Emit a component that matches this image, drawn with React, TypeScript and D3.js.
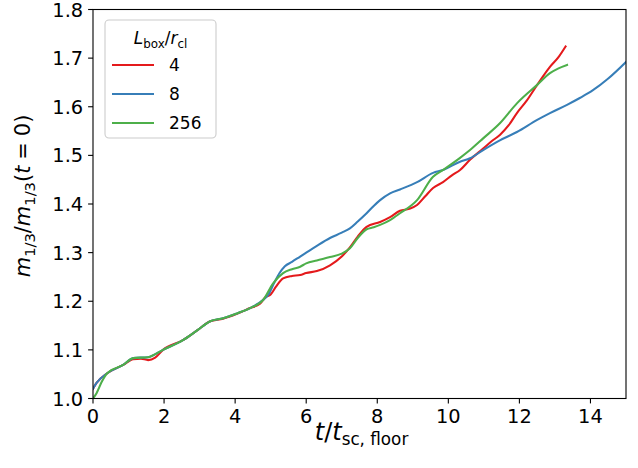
import React from "react";
import * as d3 from "d3";

const W = 638, H = 468;
const M = { left: 93, right: 626, top: 9.5, bottom: 398.5 };

const xTicks = [0, 2, 4, 6, 8, 10, 12, 14];
const yTicks = [1.0, 1.1, 1.2, 1.3, 1.4, 1.5, 1.6, 1.7, 1.8];

const legendLabels = ["4", "8", "256"];
const colors = ["#e41a1c", "#377eb8", "#4daf4a"];

const tRed = [0, 0.1, 0.4, 0.85, 1.13, 1.35, 1.55, 1.75, 1.97, 2.53, 2.93, 3.3, 3.66, 4.05, 4.42, 4.7, 4.85, 5.0, 5.15, 5.35, 5.6, 5.83, 6.0, 6.3, 6.67, 7.0, 7.23, 7.45, 7.7, 8.08, 8.36, 8.64, 8.9, 9.12, 9.35, 9.57, 9.85, 10.1, 10.33, 10.61, 10.98, 11.2, 11.45, 11.7, 11.93, 12.2, 12.5, 12.86, 13.1, 13.3];
const vRed = [1.02, 1.032, 1.052, 1.069, 1.081, 1.082, 1.079, 1.084, 1.10, 1.12, 1.14, 1.159, 1.164, 1.174, 1.186, 1.195, 1.208, 1.214, 1.230, 1.247, 1.252, 1.254, 1.258, 1.262, 1.274, 1.292, 1.311, 1.333, 1.353, 1.363, 1.373, 1.386, 1.390, 1.398, 1.416, 1.433, 1.445, 1.459, 1.470, 1.491, 1.514, 1.528, 1.542, 1.562, 1.587, 1.612, 1.645, 1.682, 1.702, 1.724];

const tBlue = [0, 0.1, 0.4, 0.85, 1.13, 1.55, 1.97, 2.53, 2.93, 3.3, 3.66, 4.05, 4.42, 4.79, 4.95, 5.1, 5.25, 5.4, 5.6, 5.83, 6.0, 6.3, 6.67, 7.0, 7.23, 7.45, 7.7, 7.9, 8.08, 8.36, 8.64, 9.12, 9.57, 9.85, 10.33, 10.61, 10.98, 11.45, 11.93, 12.5, 12.86, 13.34, 13.7, 14.07, 14.5, 15.0];
const vBlue = [1.02, 1.032, 1.052, 1.069, 1.083, 1.085, 1.10, 1.12, 1.14, 1.159, 1.165, 1.175, 1.186, 1.203, 1.215, 1.238, 1.258, 1.272, 1.281, 1.292, 1.30, 1.314, 1.33, 1.341, 1.35, 1.364, 1.381, 1.396, 1.408, 1.422, 1.43, 1.445, 1.464, 1.47, 1.487, 1.494, 1.511, 1.531, 1.548, 1.573, 1.587, 1.604, 1.618, 1.634, 1.658, 1.692];

const tGreen = [0, 0.1, 0.25, 0.4, 0.85, 1.13, 1.55, 1.97, 2.53, 2.93, 3.3, 3.66, 4.05, 4.42, 4.79, 5.07, 5.35, 5.6, 5.83, 6.0, 6.3, 6.67, 7.0, 7.23, 7.45, 7.7, 7.9, 8.08, 8.36, 8.64, 9.12, 9.57, 9.85, 10.33, 10.61, 10.98, 11.45, 11.93, 12.5, 12.86, 13.1, 13.34];
const vGreen = [1.0, 1.011, 1.035, 1.052, 1.069, 1.083, 1.085, 1.10, 1.12, 1.14, 1.159, 1.165, 1.175, 1.186, 1.203, 1.237, 1.258, 1.266, 1.271, 1.278, 1.284, 1.291, 1.298, 1.309, 1.330, 1.348, 1.352, 1.357, 1.367, 1.381, 1.408, 1.456, 1.47, 1.495, 1.511, 1.535, 1.566, 1.607, 1.645, 1.669, 1.679, 1.686];

const series = [
  { t: tRed, v: vRed },
  { t: tBlue, v: vBlue },
  { t: tGreen, v: vGreen },
];

const FONT = "DejaVu Sans";

export default function App() {
  const x = d3.scaleLinear().domain([0, 15]).range([M.left, M.right]);
  const y = d3.scaleLinear().domain([1.0, 1.8]).range([M.bottom, M.top]);
  const line = d3
    .line<[number, number]>()
    .x((d) => x(d[0]))
    .y((d) => y(d[1]))
    .curve(d3.curveMonotoneX);

  const tickLen = 4.9;
  const fs = 19.4;
  const xfs = 24;
  const yfs = 21;

  return (
    <svg width={W} height={H} style={{ position: "absolute", left: 0, top: 0, background: "#fff" }} fontFamily={FONT}>
      <defs>
        <clipPath id="plot">
          <rect x={M.left} y={M.top} width={M.right - M.left} height={M.bottom - M.top} />
        </clipPath>
      </defs>
      <rect x={0} y={0} width={W} height={H} fill="#fff" />
      <g clipPath="url(#plot)">
        {series.map((s, i) => (
          <path
            key={i}
            d={line(s.t.map((tt, j) => [tt, s.v[j]] as [number, number])) || ""}
            fill="none"
            stroke={colors[i]}
            strokeWidth={2.08}
            strokeLinejoin="round"
            strokeLinecap="square"
          />
        ))}
      </g>
      <rect x={M.left} y={M.top} width={M.right - M.left} height={M.bottom - M.top} fill="none" stroke="#000" strokeWidth={1.1} />
      {xTicks.map((t) => (
        <g key={"x" + t}>
          <line x1={x(t)} x2={x(t)} y1={M.bottom} y2={M.bottom + tickLen} stroke="#000" strokeWidth={1.1} />
          <text x={x(t)} y={M.bottom + tickLen + 4.9 + 14.2} textAnchor="middle" fontSize={fs} fill="#000">
            {t}
          </text>
        </g>
      ))}
      {yTicks.map((v) => (
        <g key={"y" + v}>
          <line x1={M.left - tickLen} x2={M.left} y1={y(v)} y2={y(v)} stroke="#000" strokeWidth={1.1} />
          <text x={M.left - tickLen - 4.9} y={y(v) + 7} textAnchor="end" fontSize={fs} fill="#000">
            {v.toFixed(1)}
          </text>
        </g>
      ))}
      <text x={361.5} y={440} textAnchor="middle" fontSize={xfs} fill="#000">
        <tspan fontStyle="italic">t</tspan>
        <tspan>/</tspan>
        <tspan fontStyle="italic">t</tspan>
        <tspan fontSize={xfs * 0.7} dy={4.5}>sc, floor</tspan>
      </text>
      <text transform={`translate(30,196) rotate(-90)`} textAnchor="middle" fontSize={yfs} fill="#000">
        <tspan fontStyle="italic">m</tspan>
        <tspan fontSize={yfs * 0.7} dy={4.5}>1/3</tspan>
        <tspan dy={-4.5}>/</tspan>
        <tspan fontStyle="italic">m</tspan>
        <tspan fontSize={yfs * 0.7} dy={4.5}>1/3</tspan>
        <tspan dy={-4.5}>(</tspan>
        <tspan fontStyle="italic">t</tspan>
        <tspan dx={yfs * 0.28}>=</tspan>
        <tspan dx={yfs * 0.28}>0)</tspan>
      </text>
      <g>
        <rect x={105} y={20} width={111} height={118} rx={4} ry={4} fill="#fff" fillOpacity={0.8} stroke="#ccc" strokeWidth={1.1} />
        <text x={160.5} y={44} textAnchor="middle" fontSize={17} fill="#000">
          <tspan fontStyle="italic">L</tspan>
          <tspan fontSize={17 * 0.7} dy={3.5}>box</tspan>
          <tspan dy={-3.5}>/</tspan>
          <tspan fontStyle="italic">r</tspan>
          <tspan fontSize={17 * 0.7} dy={3.5}>cl</tspan>
        </text>
        {legendLabels.map((lab, i) => {
          const ly = 65 + i * 29;
          return (
            <g key={lab}>
              <line x1={112} x2={154} y1={ly} y2={ly} stroke={colors[i]} strokeWidth={2.08} />
              <text x={169} y={ly + 6} fontSize={17} fill="#000">
                {lab}
              </text>
            </g>
          );
        })}
      </g>
    </svg>
  );
}
